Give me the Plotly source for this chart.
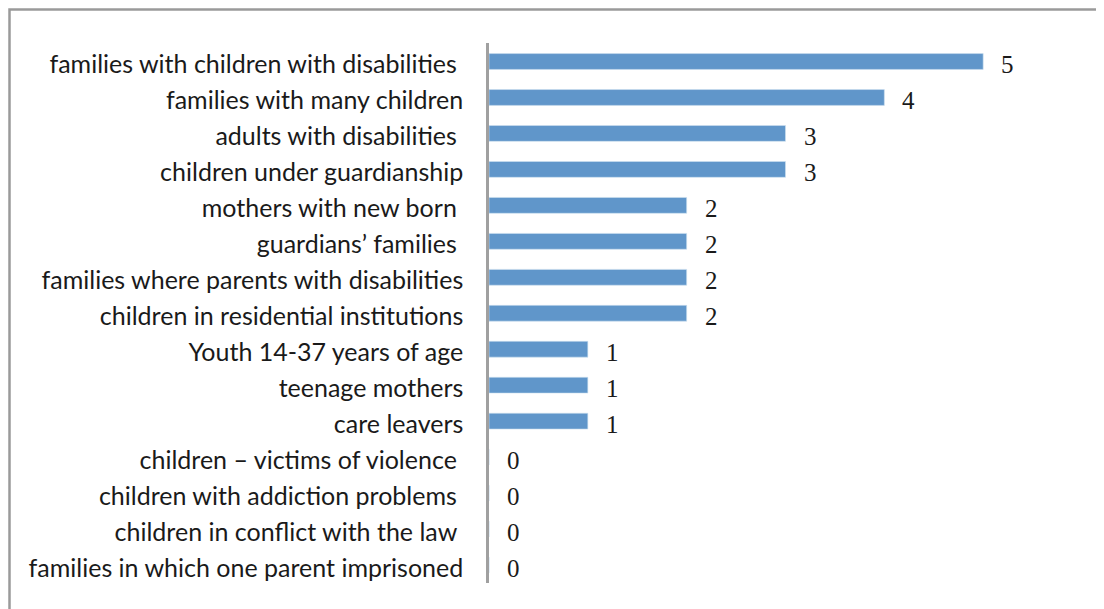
import plotly.graph_objects as go

NB = "\u00a0"
categories = [
    "families with children with disabilities" + NB,
    "families with many children",
    "adults with disabilities" + NB,
    "children under guardianship",
    "mothers with new born" + NB,
    "guardians’ families" + NB,
    "families where parents with disabilities",
    "children in residential institutions",
    "Youth 14-37 years of age",
    "teenage mothers",
    "care leavers",
    "children – victims of violence" + NB,
    "children with addiction problems" + NB,
    "children in conflict with the law" + NB,
    "families in which one parent imprisoned",
]
values = [5, 4, 3, 3, 2, 2, 2, 2, 1, 1, 1, 0, 0, 0, 0]

# page has an 8px body margin
W, H = 1096, 601
ML, MR, MT, MB = 481, 22, 35, 26
pw = W - ML - MR
ph = H - MT - MB

fig = go.Figure()
fig.add_trace(go.Bar(
    x=values, y=categories, orientation="h",
    marker=dict(color="#6096ca", line=dict(color="#cfe0f0", width=0.6)),
    width=0.44, hoverinfo="skip",
))

for v, c in zip(values, categories):
    fig.add_annotation(x=v, y=c, text=str(v), showarrow=False,
                       xanchor="left", yanchor="middle", xshift=16, yshift=-3,
                       font=dict(family="Liberation Serif", size=25, color="#1a1a1a"))

fig.add_shape(type="rect", xref="paper", yref="paper",
              x0=(1.5 - ML) / pw, x1=1.2, y0=-0.3, y1=(H - MB - 1.5) / ph,
              line=dict(color="#9a9a9a", width=2.5), fillcolor="rgba(0,0,0,0)")

fig.update_layout(
    width=W, height=H,
    margin=dict(l=ML, r=MR, t=MT, b=MB, pad=0),
    paper_bgcolor="white", plot_bgcolor="white",
    showlegend=False,
    xaxis=dict(range=[0, 6], visible=False, fixedrange=True),
    yaxis=dict(autorange="reversed", showline=True, linecolor="#a0a0a0", linewidth=2.5,
               showgrid=False, ticks="", ticklabelstandoff=18, ticklabelshift=-3,
               tickfont=dict(family="Lato", size=25, color="#1a1a1a"),
               fixedrange=True),
)

fig.write_html("out.html", config={"displayModeBar": False})
